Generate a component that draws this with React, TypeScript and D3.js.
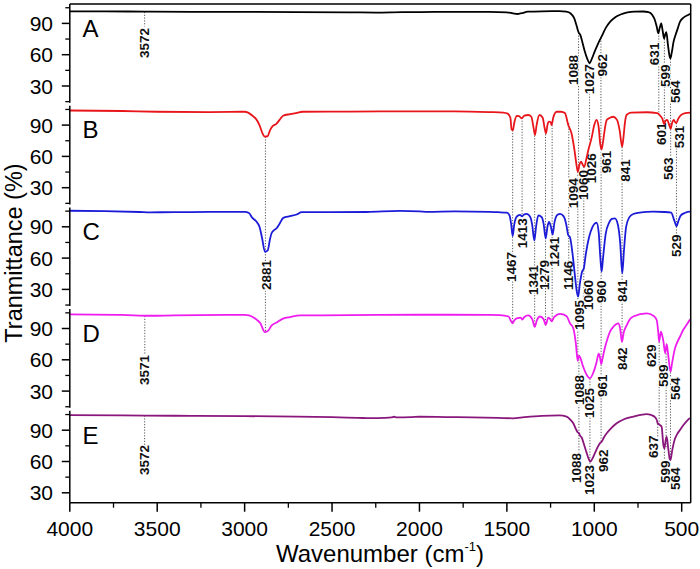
import React from 'react';
import * as d3 from 'd3';

type Pt = [number, number];

const panelNames = ['A', 'B', 'C', 'D', 'E'];
const panelColors = ['#000000', '#e8161b', '#1c1cd8', '#ee1cee', '#8a177c'];

const specA: Pt[] = [
  [4000,101.6],[3800,101.5],[3572,101.3],[3300,101.1],[3000,101.0],[2700,100.9],[2400,100.6],[2250,100.4],[2100,100.8],[2000,100.9],[1800,101.0],[1600,101.0],[1500,100.6],[1465,99.6],[1440,99.0],[1415,99.8],[1380,101.2],[1300,101.6],[1200,101.7],[1160,101.2],[1135,99.5],[1115,95],[1100,87],[1090,81.5],[1080,79],[1068,72],[1055,63.5],[1040,56],[1027,52],[1013,56.5],[998,63],[980,70],[966,75],[955,78.5],[935,85.5],[910,91.5],[880,96],[850,98.5],[810,100.5],[770,101.3],[720,101.4],[690,100.8],[668,98],[655,94],[643,87],[634,80.5],[626,85.5],[617,90],[609,83],[601,75.5],[594,79.5],[588,81.5],[579,70],[571,60],[565,56.5],[557,62],[547,72],[538,77.5],[525,84],[510,91.5],[490,95.5],[470,97.5],[455,98.8],[450,99.3]
];

const specB: Pt[] = [
  [4000,104],[3700,103.5],[3500,102.8],[3200,102.5],[3000,102.8],[2980,102],[2955,99],[2935,96],[2915,90],[2900,83],[2884,79],[2868,79.5],[2855,85],[2840,89],[2820,91],[2800,95],[2780,99],[2740,100.5],[2700,101.8],[2670,102.8],[2400,103],[2000,103.2],[1800,103.2],[1600,102.5],[1520,102],[1495,101],[1480,97],[1473,86],[1466,85],[1458,92],[1444,98.7],[1430,98.5],[1416,96.5],[1400,99],[1378,99.7],[1360,98],[1348,88],[1339,80.5],[1330,90],[1314,99.7],[1295,97],[1285,88],[1276,82],[1268,90],[1259,93.3],[1250,93],[1244,90.1],[1235,97],[1215,102.8],[1190,102.8],[1168,101.5],[1149,90.1],[1130,82],[1115,68],[1100,50],[1094,45.3],[1085,52],[1076,54.9],[1066,52],[1057,50.1],[1045,58],[1034,66.1],[1015,78],[1000,90],[987,95],[975,88],[966,72],[958,66.8],[950,74],[940,86],[929,94.9],[910,97],[891,98],[870,95],[855,85],[841,69.3],[832,80],[825,92],[815,99.7],[790,102],[700,102.3],[640,101.5],[620,98.5],[610,96],[601,91],[593,94],[583,95],[573,91],[563,86.5],[555,92],[545,95],[538,93],[531,92],[520,96],[505,99.5],[480,101.5],[450,102]
];

const specC: Pt[] = [
  [4000,105.4],[3800,105],[3600,104.2],[3540,103.9],[3400,104],[3200,104.3],[3000,104.3],[2975,103.2],[2958,99],[2935,95.5],[2915,90],[2900,79],[2884,66.1],[2868,67.5],[2855,78],[2846,83.8],[2830,87],[2817,88.6],[2800,93],[2779,98.6],[2740,100.2],[2702,101.8],[2674,104],[2500,104],[2300,104.2],[2112,105.2],[2000,104.8],[1950,104.4],[1800,104.8],[1600,104.3],[1550,104],[1500,103.5],[1485,101],[1475,92],[1467,81.2],[1458,92],[1444,99.7],[1425,101.5],[1413,100],[1400,102],[1387,102.3],[1365,99],[1355,91.6],[1343,76.9],[1333,90],[1320,101],[1300,99],[1290,93],[1278,78.8],[1268,90],[1259,94.6],[1248,90],[1238,82.7],[1228,94],[1210,101.5],[1196,102.3],[1175,100],[1160,92],[1149,82],[1139,80],[1125,65],[1110,42],[1100,28],[1092,23],[1083,35],[1070,47],[1060,50],[1050,62],[1030,80],[1010,90],[995,93.5],[987,93.9],[975,85],[966,62],[958,47],[950,60],[935,83],[915,94],[900,97.5],[882,98],[865,92],[852,75],[840,45.4],[830,68],[818,90],[800,99],[777,102.3],[740,103.5],[700,104.3],[662,104.5],[600,104.2],[560,103.5],[544,96.9],[535,92.5],[529,90.5],[520,95],[505,101],[480,103.5],[453,104.5],[450,104.5]
];

const specD: Pt[] = [
  [4000,103.5],[3700,103],[3540,102.2],[3400,102.6],[3000,103],[2975,102.5],[2940,99.5],[2910,95],[2884,86.5],[2865,88],[2845,93],[2820,95.5],[2780,99.5],[2740,101],[2680,102.5],[2400,102.8],[2000,103.2],[1600,103],[1540,102.9],[1490,101.5],[1476,97],[1467,95],[1458,97.7],[1440,100],[1420,100.5],[1412,98.5],[1400,101],[1378,102.5],[1355,99],[1341,91.7],[1328,98],[1311,101.5],[1290,99],[1278,93.4],[1263,100.5],[1252,99],[1244,96.8],[1230,101],[1196,104],[1158,101.8],[1139,95],[1120,90.2],[1105,75],[1095,59],[1088,64],[1080,62],[1065,54],[1045,46],[1025,42.3],[1005,48],[988,57],[975,66],[967,62],[960,56],[952,62],[940,71],[925,80],[910,87],[891,91.7],[863,95],[852,90],[842,77.3],[832,86],[815,93],[800,98],[777,101.5],[700,104.5],[660,102],[643,98.2],[635,88],[629,77.3],[619,86.9],[605,78],[594,66.2],[586,75],[578,66],[564,48.6],[555,57],[540,70],[525,77],[510,82.1],[490,89],[470,94],[453,98.2],[450,98.6]
];

const specE: Pt[] = [
  [4000,104.5],[3700,104.2],[3572,104],[3300,103.8],[3000,103.5],[2700,103],[2500,102.5],[2350,101.8],[2280,101.5],[2200,101.8],[2160,102.3],[2145,102.9],[2130,102.3],[2050,102.5],[2000,102.9],[1850,102.6],[1700,102.3],[1550,101.8],[1465,101.4],[1400,102.5],[1300,103.8],[1200,104.2],[1158,103],[1140,100.5],[1120,96.6],[1105,91],[1095,88],[1088,87],[1080,84.5],[1072,83],[1060,77],[1045,69],[1033,63],[1023,59.8],[1010,63],[995,68.5],[980,74],[968,77.4],[958,79],[945,83],[929,87],[900,92.5],[872,96.6],[830,100.5],[777,103],[700,105.5],[660,103.5],[643,100],[637,96.6],[625,95],[615,93.4],[605,76],[599,72.6],[592,80],[586,83.8],[578,74],[568,62],[564,61.4],[555,70],[540,81],[525,86.5],[510,90.2],[490,95],[470,99],[453,101.4],[450,101.6]
];

const spectra: Pt[][] = [specA, specB, specC, specD, specE];

const xTicks = [4000, 3500, 3000, 2500, 2000, 1500, 1000, 500];
const xMinorTicks = [3750, 3250, 2750, 2250, 1750, 1250, 750];
const yTicks = [30, 60, 90];
const yMinorTicks = [15, 45, 75, 105];

// peak labels: text, panel, wavenumber of label centre, transmittance at text start
const peakLabels: [string, number, number, number][] = [
  ['3572',0,3572,56.8],['1088',0,1120,31],['1027',0,1025,22],['962',0,953,39],['631',0,653,50],['599',0,594,29],['564',0,537,13.7],
  ['1094',1,1120,10.3],['1060',1,1063,18.2],['1026',1,1015,34.2],['961',1,929,43.8],['841',1,824,35.8],['601',1,614,70.9],['563',1,577,37.4],['531',1,510,67.8],
  ['2881',2,2875,29.4],['1467',2,1473,37.1],['1413',2,1412,69.4],['1341',2,1349,24.6],['1279',2,1282,29.4],['1241',2,1225,51.8],['1146',2,1149,29.4],['1095',2,1082,-8.9],['1060',2,1034,10.3],['960',2,958,17],['841',2,838,17.9],['529',2,529,61],
  ['3571',3,3571,35.8],['1088',3,1086,16.7],['1025',3,1025,4.2],['961',3,952,24.3],['842',3,838,50.2],['629',3,672,53.1],['589',3,606,33.9],['564',3,533,21.5],
  ['3572',4,3572,47.1],['1088',4,1101,39.4],['1023',4,1025,27.9],['962',4,949,49.9],['637',4,662,63.4],['599',4,595,39.4],['564',4,538,32.7],
];

// dotted guide lines: wavenumber, panel from, value from, panel to, value to
const guideLines: [number, number, number, number, number][] = [
  [3572,0,101,0,87],[1090,0,81,1,46],[1027,0,52,1,75],[962,0,76,1,67],[631,0,81,1,99],[599,0,75,1,91],[564,0,56,1,87],
  [601,1,91,1,72],[563,1,86,1,58],[530,1,92,2,82],
  [2881,1,79,3,87],[1467,1,85,3,95],[1413,1,97,2,100],[1341,1,80,3,92],[1279,1,84,3,93],[1241,1,90,3,97],[1146,1,92,2,40],
  [1094,1,45,3,60],[1060,1,50,2,20],[961,1,67,4,78],[841,1,69,3,77],
  [3571,3,102,3,65],[3572,4,104,4,76],[1088,3,63,4,68],[1025,3,42,4,57],[629,3,77,4,96],[589,3,66,4,72],[564,3,48,4,61],
  [637,4,96,4,84],[599,4,72,4,62],
];

const W = 700;
const H = 569;
const LEFT = 69.8;
const RIGHT = 690.7;
const TOP = 4;
const BOTTOM = 502.7;
const STEP = 101.7;
const FONT = "'Liberation Sans', Arial, Helvetica, sans-serif";

const x = d3.scaleLinear().domain([4000, 500]).range([LEFT, 681.7]);
const yP = (i: number) => d3.scaleLinear().domain([30, 90]).range([86 + i * STEP, 23.4 + i * STEP]);

export default function App() {
  const ys = panelNames.map((_, i) => yP(i));
  return (
    <svg width={W} height={H} style={{ position: 'absolute', left: 0, top: 0, background: '#fff' }} fontFamily={FONT}>
      <rect x={0} y={0} width={W} height={H} fill="#fff" />
      {/* guide lines */}
      <g stroke="#444" strokeWidth={0.9} strokeDasharray="1.2 1.6" fill="none">
        {guideLines.map((g, k) => (
          <line key={k} x1={x(g[0])} x2={x(g[0])} y1={ys[g[1]](g[2])} y2={ys[g[3]](g[4])} />
        ))}
      </g>
      {/* peak labels: halo pass then text pass */}
      <g fontSize={13.5} fontWeight="bold">
        {peakLabels.map((l, k) => (
          <text key={'h' + k} transform={`translate(${x(l[2])},${ys[l[1]](l[3])}) rotate(-90)`} dominantBaseline="central"
            textAnchor="start" fill="none" stroke="#fff" strokeWidth={2.2}>{l[0]}</text>
        ))}
        {peakLabels.map((l, k) => (
          <text key={'t' + k} transform={`translate(${x(l[2])},${ys[l[1]](l[3])}) rotate(-90)`} dominantBaseline="central"
            textAnchor="start" fill="#111">{l[0]}</text>
        ))}
      </g>
      {/* spectra */}
      {spectra.map((s, i) => {
        const line = d3.line<Pt>().x(d => x(d[0])).y(d => ys[i](d[1])).curve(d3.curveMonotoneX);
        return <path key={i} d={line(s) || ''} fill="none" stroke={panelColors[i]} strokeWidth={1.8} strokeLinejoin="round" />;
      })}
      {/* panel letters */}
      {panelNames.map((n, i) => (
        <text key={n} x={82.5} y={36.7 + i * STEP} fontSize={24} fill="#000">{n}</text>
      ))}
      {/* frame */}
      <g stroke="#000" strokeWidth={1.5} fill="none">
        <line x1={LEFT} x2={RIGHT} y1={TOP} y2={TOP} />
        <line x1={RIGHT} x2={RIGHT} y1={TOP} y2={BOTTOM} />
        <line x1={LEFT} x2={RIGHT} y1={BOTTOM} y2={BOTTOM} />
      </g>
      {/* left axes per panel */}
      {panelNames.map((n, i) => {
        const yy = ys[i];
        const yBot = i < 4 ? yy(14) : BOTTOM;
        return (
          <g key={'ax' + n}>
            <line x1={LEFT} x2={LEFT} y1={yy(108.6)} y2={yBot} stroke="#000" strokeWidth={1.5} />
            {yTicks.map(t => (
              <g key={t}>
                <line x1={LEFT - 8} x2={LEFT} y1={yy(t)} y2={yy(t)} stroke="#000" strokeWidth={1.5} />
                <text x={53} y={yy(t)} textAnchor="end" dominantBaseline="central" fontSize={21} fill="#000">{t}</text>
              </g>
            ))}
            {yMinorTicks.filter(t => yy(t) <= yBot + 0.5).map(t => (
              <line key={'m' + t} x1={LEFT - 4.5} x2={LEFT} y1={yy(t)} y2={yy(t)} stroke="#000" strokeWidth={1.3} />
            ))}
          </g>
        );
      })}
      {/* bottom axis ticks */}
      {xTicks.map(t => (
        <g key={t}>
          <line x1={x(t)} x2={x(t)} y1={BOTTOM} y2={BOTTOM + 9} stroke="#000" strokeWidth={1.5} />
          <text x={x(t)} y={536} textAnchor="middle" fontSize={21} fill="#000">{t}</text>
        </g>
      ))}
      {xMinorTicks.map(t => (
        <line key={t} x1={x(t)} x2={x(t)} y1={BOTTOM} y2={BOTTOM + 5} stroke="#000" strokeWidth={1.3} />
      ))}
      {/* axis titles */}
      <text transform={`translate(14,253) rotate(-90)`} textAnchor="middle" dominantBaseline="central" fontSize={23.5} fill="#000">Tranmittance (%)</text>
      <text x={380} y={562} textAnchor="middle" fontSize={24} fill="#000">
        Wavenumber (cm<tspan fontSize={13} dy={-11}>-1</tspan><tspan dy={11}>)</tspan>
      </text>
    </svg>
  );
}
